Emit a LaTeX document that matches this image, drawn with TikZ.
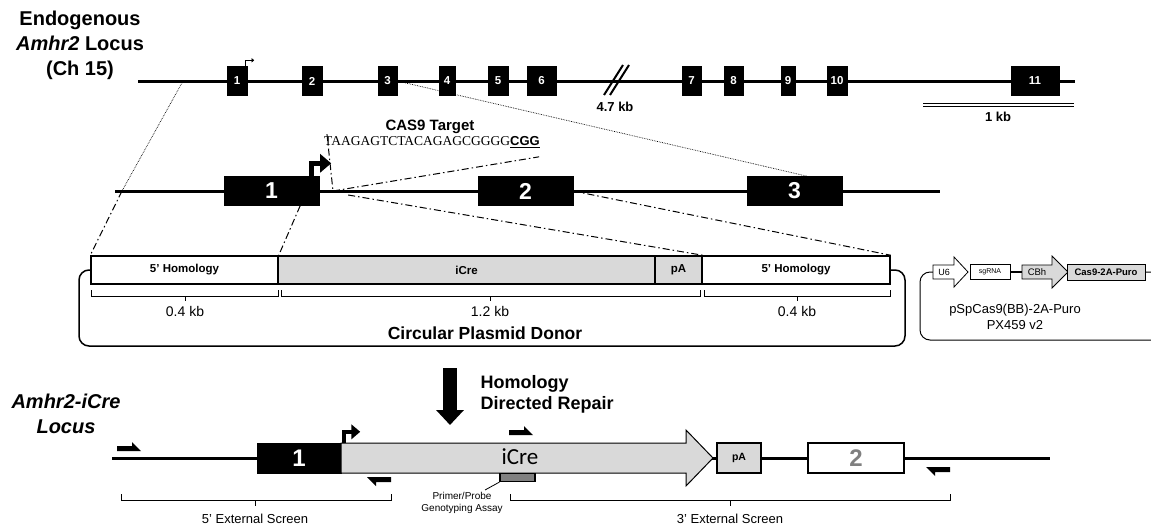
\documentclass[tikz,border=0pt]{standalone}
\usepackage{fontspec}
\setmainfont{Liberation Sans}
\newfontfamily\seqfont{Liberation Serif}
\newfontfamily\crefont{Carlito}
\usetikzlibrary{arrows.meta, calc}
\newcommand{\pxsize}[2]{\fontsize{#1}{#2}\selectfont}

\tikzset{
  fwdprimer/.pic={\fill (0,0) -- (24,0) -- (15,-9) -- (15,-5) -- (0,-5) -- cycle;}
}

\begin{document}
\begin{tikzpicture}
        [x=1pt, y=-1pt,
         exon/.style={draw, fill=black, text=white, inner sep=0, minimum height=29, font=\bfseries\pxsize{11.5}{11.5}},
         bigexon/.style={exon, font=\bfseries\pxsize{23}{23}},
         seg/.style={draw, line width=1.5, inner sep=0, minimum height=28, font=\bfseries\pxsize{11.5}{12}},
         locus/.style={line width=3},
         zoomline/.style={densely dotted, line width=0.7},
         dashdot/.style={line width=1, dash pattern=on 7pt off 3pt on 1.5pt off 3pt},
         brace/.style={line width=0.8},
         promoter/.style={line width=#1, -{Triangle[length=2.2*#1, width=3.6*#1]}}]

        \useasboundingbox (0,0) rectangle (1151,528);

        % endogenous locus
        \node[align=center, font=\bfseries\pxsize{20}{25}] (title) at (80,45) {Endogenous\\\textit{Amhr2} Locus\\(Ch 15)};
        \coordinate (tl) at (138,81);
        \coordinate (tr) at (1075,81);
        \draw[locus] (tl) -- (tr);
        \draw[line width=2] (604,95) -- (623,65);
        \draw[line width=2] (610,95) -- (629,65);
        \node[exon, minimum width=20] (e1) at (237,81) {1};
        \node[exon, minimum width=20] (e2) at (312,81) {2};
        \node[exon, minimum width=19] (e3) at (387.5,81) {3};
        \node[exon, minimum width=16] (e4) at (447,81) {4};
        \node[exon, minimum width=20] (e5) at (498,81) {5};
        \node[exon, minimum width=29] (e6) at (541.5,81) {6};
        \node[exon, minimum width=19] (e7) at (691.5,81) {7};
        \node[exon, minimum width=19] (e8) at (733.5,81) {8};
        \node[exon, minimum width=14] (e9) at (788,81) {9};
        \node[exon, minimum width=20] (e10) at (837,81) {10};
        \node[exon, minimum width=48] (e11) at (1035,81) {11};
        \draw[promoter=1.2] ($(e1.north east)+(-2,0)$) |- ($(e1.north east)+(7,-6)$);
        \node[font=\bfseries\pxsize{13}{13}] (gap) at (615,107) {4.7 kb};
        \coordinate (sb1) at (923,105);
        \coordinate (sb2) at (1074,105);
        \draw[double, double distance=2.5, line width=0.9] (sb1) -- (sb2);
        \node[font=\bfseries\pxsize{13}{13}] (scale) at (998,117) {1 kb};

        % exons 1-3 close up
        \node[font=\bfseries\pxsize{15}{15}] (castitle) at (430,127) {CAS9 Target};
        \node[inner sep=0] (seq) at (432,142) {{\seqfont\pxsize{13.5}{14}TAAGAGTCTACAGAGCGGGG}{\bfseries\pxsize{13}{14}\underline{CGG}}};
        \coordinate (ml) at (115,191);
        \coordinate (mz) at (122,191);
        \coordinate (mr) at (940,191);
        \coordinate (cut) at (333,191);
        \draw[locus] (ml) -- (mr);
        \node[bigexon, minimum width=95] (m1) at (271.5,191) {1};
        \node[bigexon, minimum width=95] (m2) at (525.5,191) {2};
        \node[bigexon, minimum width=95] (m3) at (794.5,191) {3};
        \draw[promoter=5] ($(m1.north east)+(-8,0)$) |- ($(m1.north east)+(12,-13)$);
        \draw[zoomline] (tl -| 183,0) -- (mz);
        \draw[zoomline] (e3.east) -- ($(m3.north)+(13,0)$);
        \draw[dashdot] ($(seq.north west)+(3,-2)$) -- (cut);
        \draw[dashdot] (cut) -- ($(seq.south east)+(-1,9)$);

        % donor
        \node[seg, minimum width=187] (h5) at (184.5,270) {5' Homology};
        \node[seg, fill=black!15, minimum width=377] (icre) at (466.5,270) {iCre};
        \node[seg, fill=black!15, minimum width=47] (pa) at (678.5,270) {pA};
        \node[seg, minimum width=188] (h3) at (796,270) {5' Homology};
        \draw[dashdot] (mz) -- (h5.north west);
        \draw[dashdot] ($(m1.south east)+(-19,0)$) -- (h5.north east);
        \draw[dashdot] ($(m1.east)+(29,4)$) -- (pa.north east);
        \draw[dashdot] (m2.east) -- (h3.north east);
        \draw[brace] (91,290) -- (91,296) -- (278,296) -- (278,290);
        \draw[brace] (185,296) -- (185,301);
        \draw[brace] (281,290) -- (281,296) -- (700,296) -- (700,290);
        \draw[brace] (490,296) -- (490,301);
        \draw[brace] (704,290) -- (704,296) -- (890,296) -- (890,290);
        \draw[brace] (797,296) -- (797,301);
        \node[font=\pxsize{14}{14}] (kb1) at (185,311) {0.4 kb};
        \node[font=\pxsize{14}{14}] (kb2) at (490,311) {1.2 kb};
        \node[font=\pxsize{14}{14}] (kb3) at (797,311) {0.4 kb};
        \draw[line width=1.5, rounded corners=10] (h5.west) -- (79,270) -- (79,346) -- (905,346) -- (905,270) -- (h3.east);
        \node[font=\bfseries\pxsize{17.5}{18}] (donor) at (485,333) {Circular Plasmid Donor};

        % px459
        \draw[line width=1, rounded corners=10] (933,272) -- (920,272) -- (920,340) -- (1162,340) -- (1162,272) -- (1145,272);
        \draw[fill=white, line width=0.8] (933,265) -- (954,265) -- (954,257) -- (968,272) -- (954,287) -- (954,279) -- (933,279) -- cycle;
        \node[font=\pxsize{9}{9}] (u6) at (944,272) {U6};
        \node[draw, line width=0.8, fill=white, minimum width=40, minimum height=15, inner sep=0, font=\pxsize{7}{7}] (sg) at (990,272) {sgRNA};
        \draw[fill=black!15, line width=0.8] (1022,265) -- (1052,265) -- (1052,256) -- (1068,272) -- (1052,288) -- (1052,279) -- (1022,279) -- cycle;
        \node[font=\pxsize{9.5}{9.5}] (cbh) at (1037,272) {CBh};
        \draw[line width=1.5] (sg.east) -- (1022,272);
        \node[draw, fill=black!15, line width=0.8, minimum width=78, minimum height=16, inner sep=0, font=\bfseries\pxsize{9.5}{10}] (cas) at (1106,272) {Cas9-2A-Puro};
        \node[align=center, font=\pxsize{13}{16}] (px) at (1015,317) {pSpCas9(BB)-2A-Puro\\PX459 v2};

        % repair
        \coordinate (hdrtop) at (450,368);
        \coordinate (hdrbot) at (450,425);
        \draw[line width=14, -{Triangle[length=15pt, width=27pt]}] (hdrtop) -- (hdrbot);
        \node[anchor=west, align=left, font=\bfseries\pxsize{18}{21}] (hdr) at (477,394) {Homology\\Directed Repair};

        % knock-in locus
        \node[align=center, font=\bfseries\itshape\pxsize{20}{25}] (ki) at (66,414) {Amhr2-iCre\\Locus};
        \coordinate (bl) at (112,458);
        \coordinate (br) at (1050,458);
        \draw[locus] (bl) -- (br);
        \node[exon, minimum width=84, minimum height=30, font=\bfseries\pxsize{24}{24}] (k1) at (299,458) {1};
        \draw[fill=black!15, line width=1] (341,443) -- (686,443) -- (686,430) -- (713,458) -- (686,486) -- (686,473) -- (341,473) -- cycle;
        \node[font=\crefont\pxsize{23}{23}] (icrelab) at (520,457) {iCre};
        \draw[promoter=4] ($(k1.north east)+(3,0)$) |- ($(k1.north east)+(19,-11)$);
        \node[draw, fill=black!15, line width=1.5, minimum width=44, minimum height=30, inner sep=0, font=\bfseries\pxsize{10.5}{10.5}] (pa2) at (739,458) {pA};
        \node[draw, fill=white, line width=1.5, minimum width=96, minimum height=30, inner sep=0, text=black!50, font=\bfseries\pxsize{24}{24}] (k2) at (856,458) {2};
        \pic at (117,451) {fwdprimer};
        \pic at (509,435) {fwdprimer};
        \pic[rotate=180] at (391,477) {fwdprimer};
        \pic[rotate=180] at (950,467) {fwdprimer};
        \node[draw, fill=black!50, line width=1.2, minimum width=35, minimum height=8, inner sep=0] (probe) at (517.5,477.5) {};
        \node[align=center, font=\pxsize{10}{12}] (probelab) at (462,503) {Primer/Probe\\Genotyping Assay};
        \draw[line width=0.8] (probe.south west) -- (485,490);
        \draw[brace] (121,494) -- (121,500) -- (391,500) -- (391,494);
        \draw[brace] (255,500) -- (255,506);
        \draw[brace] (510,494) -- (510,500) -- (950,500) -- (950,494);
        \draw[brace] (730,500) -- (730,506);
        \node[font=\pxsize{13}{13}] (ext5) at (255,519) {5' External Screen};
        \node[font=\pxsize{13}{13}] (ext3) at (730,519) {3' External Screen};
      \end{tikzpicture}
\end{document}
